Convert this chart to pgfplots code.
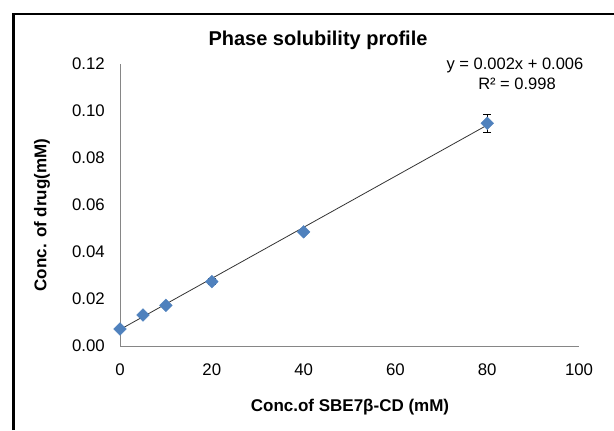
\documentclass[border=0pt]{standalone}
\usepackage{pgfplots}
\pgfplotsset{compat=1.18}
\usepackage{fontspec}
\setmainfont{Liberation Sans}
\definecolor{markblue}{HTML}{4F81BD}
\definecolor{axgray}{HTML}{868686}
\begin{document}
\begin{tikzpicture}[x=1bp,y=1bp]
\useasboundingbox (0,0) rectangle (614,430);
\draw[line width=2.5bp,black] (13.5,0) -- (13.5,416) -- (620,416);
\begin{axis}[
  at={(120bp,84bp)}, anchor=south west,
  scale only axis, width=459bp, height=282bp,
  xmin=0, xmax=100, ymin=0, ymax=0.12,
  axis lines*=left,
  axis line style={axgray, line width=0.9bp},
  xtick={0,20,40,60,80,100},
  ytick={0,0.02,0.04,0.06,0.08,0.10,0.12},
  major tick length=0pt,
  /pgf/number format/assume math mode=true,
  yticklabel style={/pgf/number format/fixed, /pgf/number format/precision=2, /pgf/number format/fixed zerofill, font=\fontsize{16.8bp}{18bp}\selectfont, anchor=east, inner sep=0pt, xshift=-15bp},
  xticklabel style={font=\fontsize{16.8bp}{18bp}\selectfont, anchor=north, inner sep=0pt, yshift=-18bp},
  scaled y ticks=false,
  clip=false,
]
\addplot[black!80, line width=0.8bp, no marks] coordinates {(0,0.0070) (80,0.0940)};
\addplot[only marks, mark=square*, mark size=4.5bp, mark options={rotate=45, fill=markblue, draw=markblue},
  error bars/.cd, y dir=both, y explicit, error bar style={black, line width=0.8bp}, error mark options={rotate=90, mark size=4bp, black, line width=0.8bp}]
  coordinates {
  (0,0.0072) +- (0,0.0004)
  (5,0.0132) +- (0,0.0005)
  (10,0.0173) +- (0,0.0006)
  (20,0.0274) +- (0,0.0013)
  (40,0.0486) +- (0,0.0008)
  (80,0.0948) +- (0,0.0039)
  };
\end{axis}
\node[font=\bfseries\fontsize{20bp}{22bp}\selectfont] at (318,390) {Phase solubility profile};
\node[font=\bfseries\fontsize{17bp}{19bp}\selectfont, rotate=90] at (42,215) {Conc. of drug(mM)};
\node[font=\bfseries\fontsize{17bp}{19bp}\selectfont] at (350,23) {Conc.of SBE7β-CD (mM)};
\node[font=\fontsize{16.5bp}{18bp}\selectfont] at (515,365) {y = 0.002x + 0.006};
\node[font=\fontsize{16.5bp}{18bp}\selectfont] at (517,346) {R² = 0.998};
\end{tikzpicture}
\end{document}
